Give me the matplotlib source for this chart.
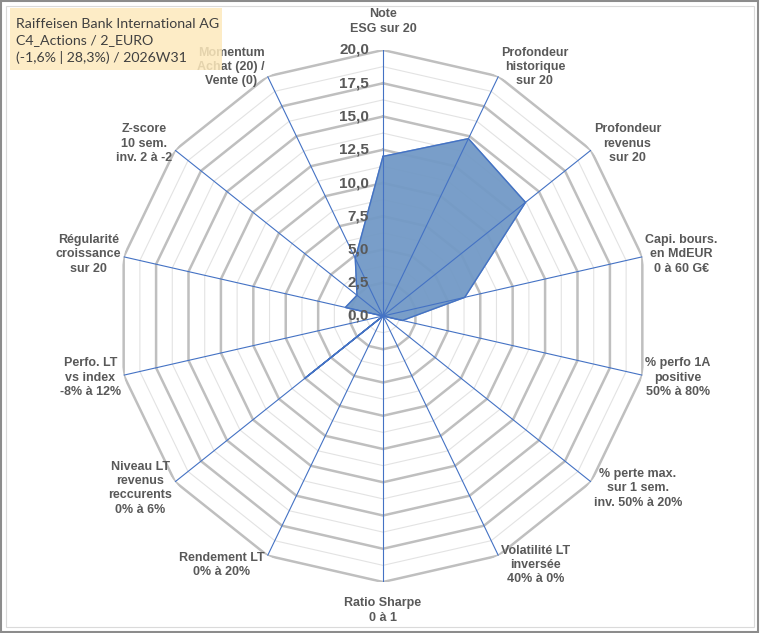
import numpy as np
import matplotlib
matplotlib.use("Agg")
from matplotlib import pyplot as plt
from matplotlib.patches import Rectangle, FancyBboxPatch

categories = [
    "Note\nESG sur 20",
    "Profondeur\nhistorique\nsur 20",
    "Profondeur\nrevenus\nsur 20",
    "Capi. bours.\nen MdEUR\n0 à 60 G€",
    "% perfo 1A\npositive\n50% à 80%",
    "% perte max.\nsur 1 sem.\ninv. 50% à 20%",
    "Volatilité LT\ninversée\n40% à 0%",
    "Ratio Sharpe\n0 à 1",
    "Rendement LT\n0% à 20%",
    "Niveau LT\nrevenus\nreccurents\n0% à 6%",
    "Perfo. LT\nvs index\n-8% à 12%",
    "Régularité\ncroissance\nsur 20",
    "Z-score\n10 sem.\ninv. 2 à -2",
    "Momentum\nAchat (20) /\nVente (0)",
]
values = [12.0, 14.8, 13.7, 6.3, 1.5, 0.0, 0.0, 0.0, 0.0, 7.5, 0.0, 2.9, 2.5, 4.8]
major_ticks = [0.0, 2.5, 5.0, 7.5, 10.0, 12.5, 15.0, 17.5, 20.0]
minor_ticks = [1.25, 3.75, 6.25, 8.75, 11.25, 13.75, 16.25, 18.75]
title_lines = ["Raiffeisen Bank International AG", "C4_Actions / 2_EURO", "(-1,6% | 28,3%) / 2026W31"]

label_font = "Liberation Sans"
grey_txt = "#595959"
blue = "#4472C4"

n = len(categories)
theta = np.arange(n) * 2 * np.pi / n
theta_closed = np.append(theta, theta[0])

fig = plt.figure(figsize=(7.6, 6.33), dpi=100)
ax = fig.add_axes([117 / 760, 51 / 633, 532 / 760, 532 / 633], projection="polar")
ax.set_theta_offset(np.pi / 2)
ax.set_theta_direction(-1)
ax.set_ylim(0, 20)
ax.grid(False)
ax.spines["polar"].set_visible(False)
ax.set_xticks([])
ax.set_yticks([])
ax.patch.set_alpha(0)

# polygon grid
for r in minor_ticks:
    ax.plot(theta_closed, [r] * (n + 1), color="#E3E3E3", lw=0.8, zorder=1)
for r in major_ticks[1:]:
    ax.plot(theta_closed, [r] * (n + 1), color="#BFBFBF", lw=1.8, zorder=1.5)

# spokes
for t in theta:
    ax.plot([t, t], [0, 20], color=blue, lw=0.8, zorder=3)

# series
vals_closed = values + values[:1]
ax.fill(theta_closed, vals_closed, color="#7299C6", alpha=0.95, zorder=2)
ax.plot(theta_closed, vals_closed, color=blue, lw=1.0, zorder=2.5)

# radial tick labels
for r in major_ticks:
    ax.annotate(f"{r:.1f}".replace(".", ","), xy=(0, r), xytext=(-10, 0),
                textcoords="offset points", ha="right", va="center",
                fontsize=11, fontweight="bold", color=grey_txt,
                family=label_font, zorder=4, annotation_clip=False)

# category labels
for t, lab in zip(theta, categories):
    ang = np.pi / 2 - t
    c, s = np.cos(ang), np.sin(ang)
    if abs(c) < 0.1:
        ha = "center"
        va = "bottom" if s > 0 else "top"
        off = (0, 11 * np.sign(s))
    else:
        ha = "left" if c > 0 else "right"
        va = "center"
        off = (2 * np.sign(c), 7.5 * s)
    ax.annotate(lab, xy=(t, 20), xytext=off, textcoords="offset points",
                ha=ha, va=va, multialignment="center", fontsize=9,
                fontweight="bold", color=grey_txt, family=label_font,
                linespacing=1.25, annotation_clip=False, zorder=4)

# title box
box = FancyBboxPatch((10 / 760, 1 - 70 / 633), 212 / 760, 62 / 633,
                     boxstyle="square,pad=0", transform=fig.transFigure,
                     facecolor="#FDE9BC", edgecolor="none", alpha=0.85, zorder=10)
fig.add_artist(box)
fig.text(16 / 760, 1 - 41 / 633, "\n".join(title_lines), fontsize=10.2,
         family="Lato", color="#404040", ha="left", va="center",
         linespacing=1.45, zorder=11)

# frame
fig.add_artist(Rectangle((0.001, 0.001), 0.997, 0.997, transform=fig.transFigure,
                         fill=False, edgecolor="#8C8C8C", lw=1.5))
fig.add_artist(Rectangle((6 / 760, 6 / 633), 748 / 760, 621 / 633, transform=fig.transFigure,
                         fill=False, edgecolor="#DADADA", lw=0.8))

fig.savefig("out.png", dpi=100)
